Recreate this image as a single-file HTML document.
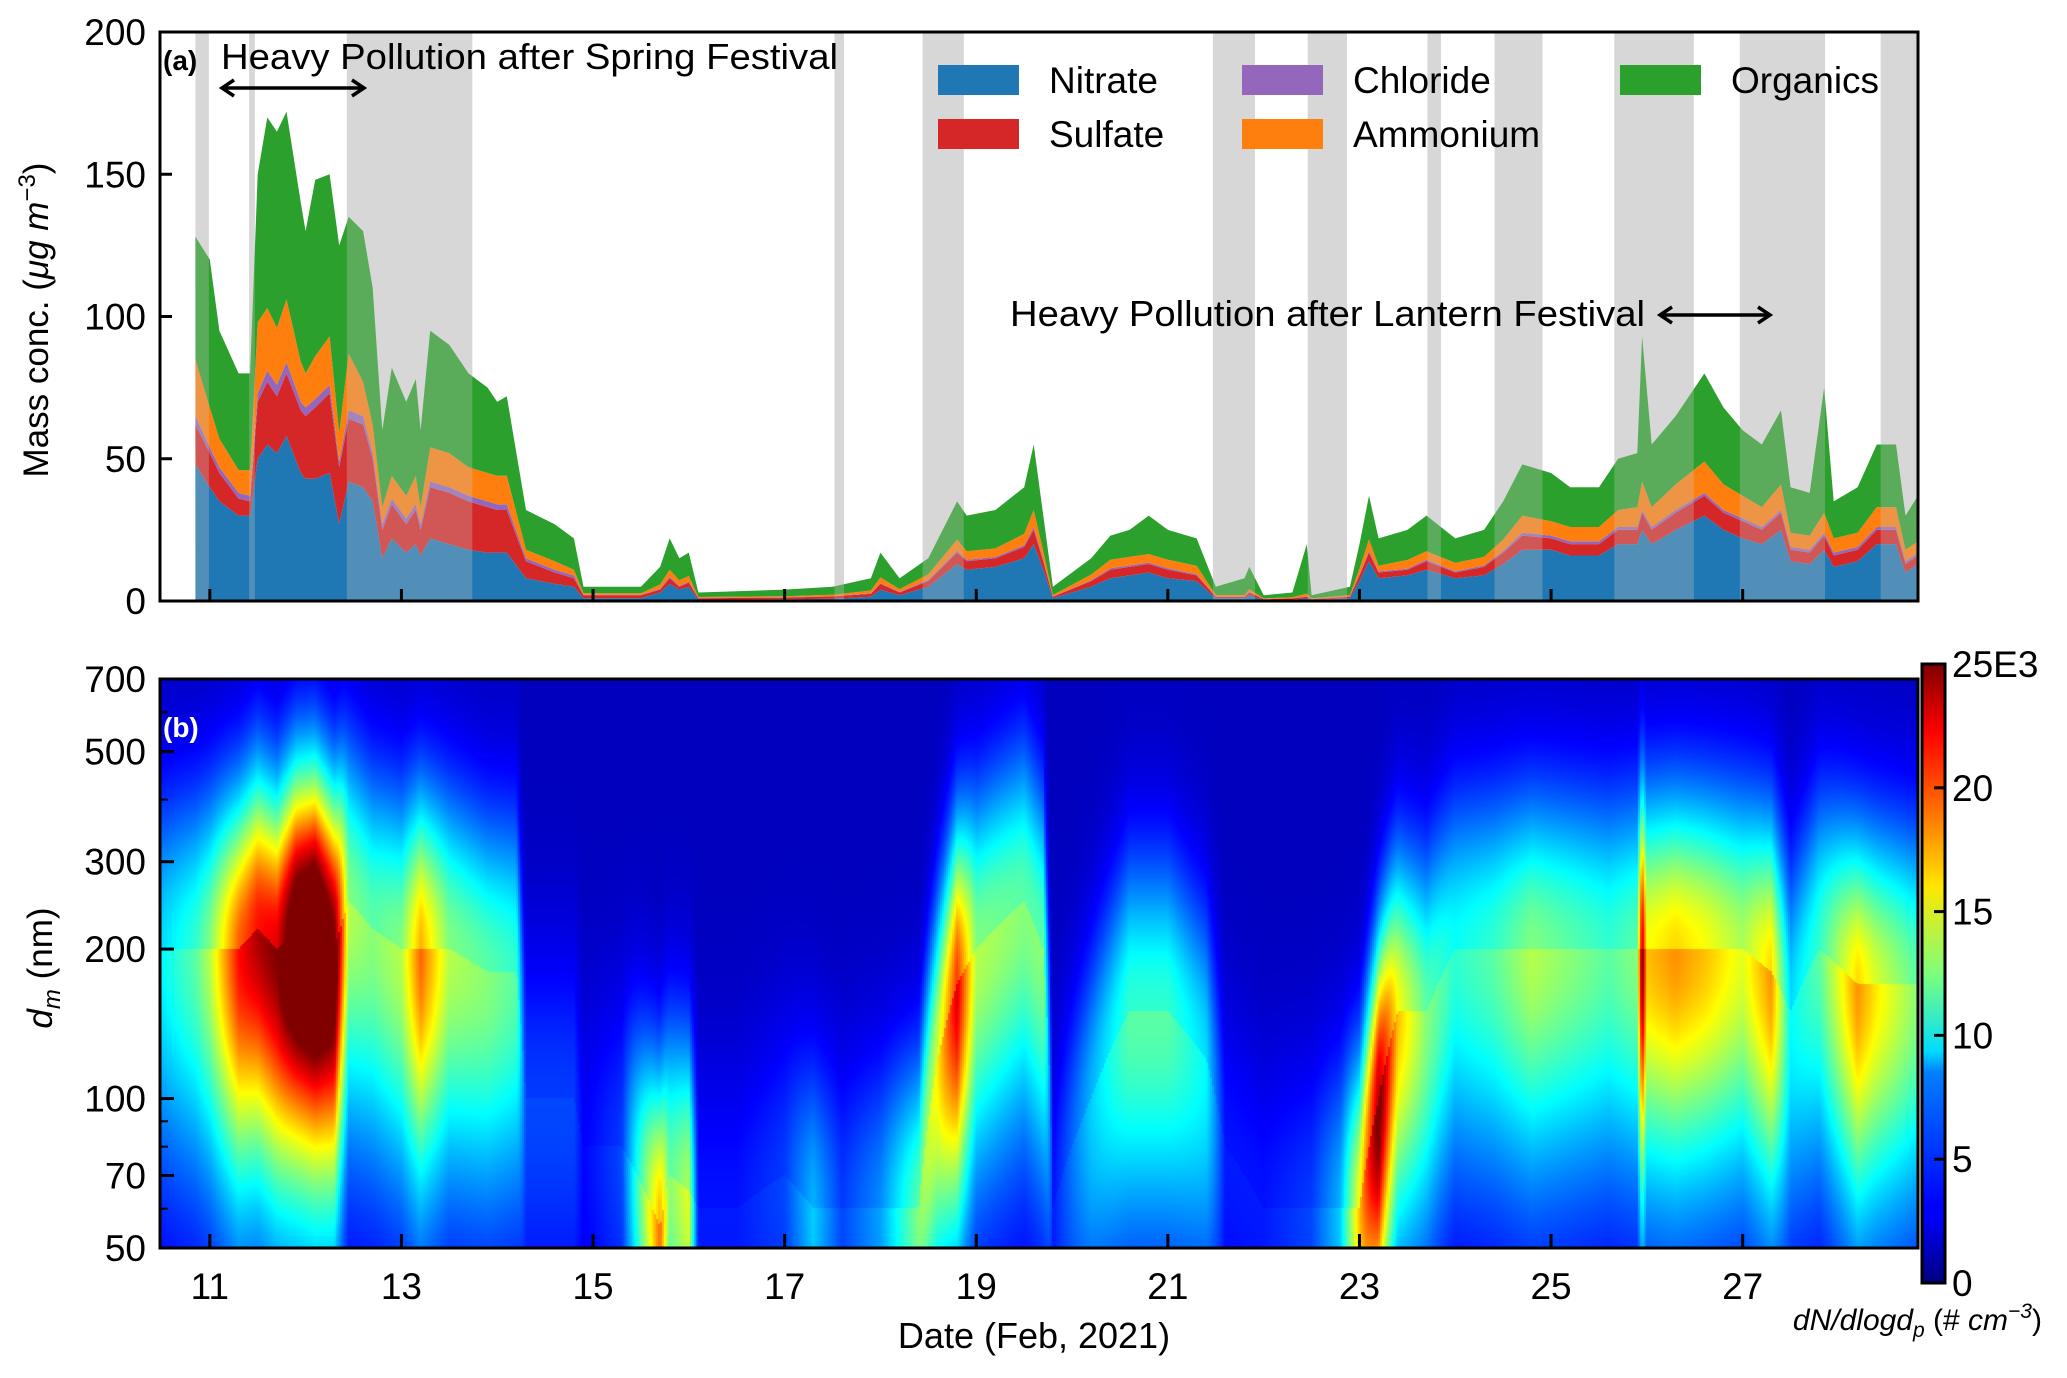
<!DOCTYPE html>
<html><head><meta charset="utf-8"><style>
body{margin:0;background:#fff;}
svg text{font-family:"Liberation Sans",sans-serif;fill:#000;}
</style></head><body>
<svg id="fig" width="2067" height="1373" viewBox="0 0 2067 1373" xmlns="http://www.w3.org/2000/svg">
<defs>
<linearGradient id="jet" x1="0" y1="1" x2="0" y2="0">
<stop offset="0" stop-color="#00007f"/><stop offset="0.11" stop-color="#0000ff"/><stop offset="0.125" stop-color="#0000ff"/><stop offset="0.34" stop-color="#0080ff"/><stop offset="0.375" stop-color="#00ddff"/><stop offset="0.5" stop-color="#7dff7a"/><stop offset="0.64" stop-color="#ffe600"/><stop offset="0.77" stop-color="#ff6a00"/><stop offset="0.89" stop-color="#ff0000"/><stop offset="1" stop-color="#7f0000"/>
</linearGradient>
<clipPath id="clipA"><rect x="160" y="32" width="1758" height="569"/></clipPath>
</defs>
<g id="bandsBack"></g>
<g id="stacks" clip-path="url(#clipA)"></g>
<g id="bandsFront"></g>
<rect x="160" y="32" width="1758" height="569" fill="none" stroke="#000" stroke-width="3"/>
<g id="axA"></g>
<text x="0" y="0" font-size="35" transform="translate(48,320) rotate(-90)" text-anchor="middle">Mass conc. (<tspan font-style="italic">μg m</tspan><tspan font-size="24" dy="-13">−3</tspan><tspan dy="13">)</tspan></text>
<text x="163" y="70" font-size="28" font-weight="bold">(a)</text>
<text x="221" y="69" font-size="36" textLength="617" lengthAdjust="spacingAndGlyphs">Heavy Pollution after Spring Festival</text>
<g stroke="#000" stroke-width="3.5" fill="none"><line x1="222" y1="88" x2="364" y2="88"/><polyline points="234,80 222,88 234,96"/><polyline points="352,80 364,88 352,96"/></g>
<text x="1010" y="326" font-size="36" textLength="635" lengthAdjust="spacingAndGlyphs">Heavy Pollution after Lantern Festival</text>
<g stroke="#000" stroke-width="3.5" fill="none"><line x1="1660" y1="315" x2="1770" y2="315"/><polyline points="1672,307 1660,315 1672,323"/><polyline points="1758,307 1770,315 1758,323"/></g>
<g id="legend"></g>
<foreignObject x="160" y="679" width="1758" height="569"><canvas xmlns="http://www.w3.org/1999/xhtml" id="heat" width="1758" height="569" style="display:block"></canvas></foreignObject>
<rect x="160" y="679" width="1758" height="569" fill="none" stroke="#000" stroke-width="3"/>
<text x="163" y="737" font-size="28" font-weight="bold" style="fill:#fff">(b)</text>
<g id="axB"></g>
<text x="0" y="0" font-size="35" transform="translate(52,968) rotate(-90)" text-anchor="middle"><tspan font-style="italic">d</tspan><tspan font-style="italic" font-size="24" dy="8">m</tspan><tspan dy="-8"> (nm)</tspan></text>
<text x="1034" y="1348" font-size="36" text-anchor="middle">Date (Feb, 2021)</text>
<rect x="1922" y="664" width="23" height="619" fill="url(#jet)" stroke="#000" stroke-width="3"/>
<g id="cbax"></g>
<text x="2042" y="1330" font-size="30" font-style="italic" text-anchor="end">dN/dlogd<tspan font-size="21" dy="7">p</tspan><tspan dy="-7" font-style="normal"> (# </tspan>cm<tspan font-size="21" dy="-12">−3</tspan><tspan dy="12" font-style="normal">)</tspan></text>
</svg>
<script>
// ---- panel a data ----
const times=[10.85,11.0,11.1,11.3,11.42,11.5,11.6,11.7,11.8,11.95,12.0,12.1,12.25,12.35,12.45,12.6,12.7,12.8,12.9,13.05,13.15,13.2,13.3,13.5,13.7,13.9,14.0,14.1,14.3,14.6,14.8,14.9,15.5,15.7,15.8,15.9,16.0,16.1,17.0,17.5,17.9,18.0,18.2,18.5,18.8,18.9,19.2,19.5,19.6,19.7,19.8,20.2,20.4,20.6,20.8,21.0,21.3,21.5,21.8,21.85,22.0,22.3,22.45,22.5,22.9,23.0,23.1,23.2,23.5,23.7,24.0,24.3,24.5,24.7,25.0,25.2,25.5,25.7,25.9,25.95,26.05,26.3,26.6,26.8,27.0,27.2,27.4,27.5,27.7,27.85,27.95,28.2,28.4,28.6,28.7,28.83];
const nitrate=[48,40,35,30,30,50,55,52,58,45,43,43,45,27,42,40,35,15,22,17,20,16,22,20,18,17,17,17,8,6,5,1,1,3,6,4,5,0.5,0.6,0.8,1.5,4,2,5,13,11,12,15,20,11,1,5,8,9,10,8,7,1,1,2,0.3,0.5,1,0.3,1,7,14,8,9,11,8,9,13,18,18,16,16,20,20,25,20,25,30,25,22,20,25,14,13,18,12,14,20,20,10,13];
const sulfate=[14,12,10,6,5,20,22,20,22,22,22,25,28,20,22,22,15,10,12,10,12,9,18,18,17,16,15,15,6,4,3,1,1,1,2,1,1.5,0.5,0.6,0.8,1,2,1,2,4,3,3,4,5,3,0.5,2,3,3,3,3,2,0.5,0.5,1,0.3,0.4,0.5,0.3,0.5,2,3,2,2,3,2,3,4,5,4,4,4,5,5,6,5,6,7,6,6,5,6,4,4,5,4,4,5,5,3,3];
const chloride=[3,2,2,2,2,3,4,4,4,3,3,3,3,2,3,3,2,2,2,2,2,2,2,2,2,2,2,2,1,1,1,0.2,0.2,0.3,0.5,0.3,0.3,0.1,0.1,0.1,0.2,0.3,0.2,0.4,0.6,0.5,0.5,0.6,1,0.5,0.1,0.3,0.5,0.5,0.5,0.5,0.4,0.1,0.1,0.2,0.1,0.1,0.1,0.1,0.1,0.4,0.6,0.4,0.4,0.5,0.4,0.5,0.6,1,1,1,1,1,1,1,1,1,1,1,1,1,1,1,1,1,1,1,1,1,1,1];
const ammonium=[20,14,10,8,9,25,22,20,22,14,12,15,17,10,20,12,10,6,8,8,10,6,12,12,10,10,10,10,3,3,2,0.5,0.5,1.5,2.5,2,2,0.3,0.4,0.5,1,2,1,2,4,3,3,4,6,3,0.5,2,3,3,3,3,3,0.5,0.5,1,0.2,0.3,1,0.2,0.5,2,4,2,3,3,3,3,4,6,5,5,5,6,7,10,7,9,11,9,8,7,9,5,5,7,5,5,7,7,4,4];
const organics=[43,52,38,34,34,52,67,69,66,56,50,62,57,66,48,53,48,27,38,33,34,27,41,38,33,30,26,28,14,13,11,2.3,2.3,6.2,11,7.7,8.2,1.6,2.3,2.8,4.3,8.7,3.8,5.6,13.4,12.5,13.5,16.4,23,12.5,2.9,5.7,8.5,9.5,13.5,10.5,9.6,2.9,5.9,7.8,1.1,1.7,17.4,1.1,2.9,8.6,15.4,9.6,10.6,12.5,8.6,9.5,13.4,18,17,14,14,18,19,51,22,24,31,27,23,22,26,16,15,44,13,16,22,22,12,16];
const bandStart=[10.85,11.41,12.43,17.52,18.44,21.47,22.46,23.71,24.41,25.66,26.97,28.44];
const bandEnd=[10.99,11.47,13.74,17.62,18.87,21.91,22.87,23.85,24.91,26.49,27.86,28.83];
const yTicksA=[0,50,100,150,200];
const dayTicks=[11,13,15,17,19,21,23,25,27];
// ---- panel b data ----
const hTimes=[10.5,10.85,11.0,11.3,11.5,11.7,11.9,12.1,12.3,12.45,12.7,13.0,13.2,13.5,13.9,14.2,14.3,14.8,14.9,15.3,15.7,15.8,16.0,16.1,16.5,17.0,17.3,17.6,18.0,18.4,18.6,18.8,19.0,19.5,19.7,19.8,20.2,20.6,21.0,21.4,21.6,22.0,22.5,22.8,23.0,23.2,23.4,23.7,24.0,24.4,24.8,25.2,25.6,25.9,25.95,26.0,26.3,26.6,27.0,27.3,27.5,27.8,28.2,28.4,28.83];
const hMode=[200,200,200,200,220,200,220,220,200,250,220,200,200,200,180,180,100,100,80,80,55,70,65,60,60,70,60,60,60,60,120,170,200,250,200,60,100,150,150,120,80,60,60,60,60,100,150,150,200,200,200,200,200,200,200,200,200,200,200,180,150,200,170,170,170];
const hPeak=[7,9,11,18,20,21,26,28,24,11,10,11,16,11,10,9,3,3,1.5,3,16,10,12,2,2,3,6,3,5,10,13,19,11,10,10,2,6,9,9,7,2,2,3,6,14,22,14,10,8,9,11,10,9,10,22,14,15,14,12,15,7,9,15,13,10];
const yTicksB=[50,70,100,200,300,500,700];
const yMinorB=[60,80,90,400,600];
const cbLabels=["0","5","10","15","20","25E3"];
const cbTickVals=[0,5,10,15,20,25];

const NS="http://www.w3.org/2000/svg";
const X0=160,X1=1918,D0=10.48,D1=28.83;
const xs=d=>X0+(d-D0)/(D1-D0)*(X1-X0);
const ya=v=>601-v/200*569;
const yb=d=>1248-Math.log(d/50)/Math.log(14)*569;
const ycb=v=>1283-v/25*619;
function mk(tag,attrs,parent){const e=document.createElementNS(NS,tag);for(const k in attrs)e.setAttribute(k,attrs[k]);parent.appendChild(e);return e;}

const bb=document.getElementById('bandsBack'),bf=document.getElementById('bandsFront');
bandStart.forEach((s,i)=>{
 const r=mk('rect',{x:xs(s),y:32,width:xs(bandEnd[i])-xs(s),height:569,fill:'#dedede'},bb);
 
 
 const r2=mk('rect',{x:xs(s),y:32,width:xs(bandEnd[i])-xs(s),height:569,fill:'rgba(200,200,200,0.3)'},bf);
 
 
});
const series=[["nitrate",nitrate,"#1f77b4"],["sulfate",sulfate,"#d62728"],["chloride",chloride,"#9467bd"],["ammonium",ammonium,"#ff7f0e"],["organics",organics,"#2ca02c"]];
const st=document.getElementById('stacks');
let base=times.map(()=>0);
series.forEach(([nm,arr,col])=>{
 const top=base.map((b,i)=>b+arr[i]);
 let p="M"+xs(times[0])+","+ya(base[0]);
 times.forEach((t,i)=>{p+=" L"+xs(t).toFixed(1)+","+ya(top[i]).toFixed(1);});
 for(let i=times.length-1;i>=0;i--)p+=" L"+xs(times[i]).toFixed(1)+","+ya(base[i]).toFixed(1);
 const e=mk('path',{d:p+"Z",fill:col},st);
 
 
 base=top;
});
const axA=document.getElementById('axA');
yTicksA.forEach(v=>{
 mk('line',{x1:160,x2:172,y1:ya(v),y2:ya(v),stroke:'#000','stroke-width':3},axA);
 const t=mk('text',{x:146,y:ya(v)+13,'font-size':37,'text-anchor':'end'},axA);t.textContent=v;
 
 
});
dayTicks.forEach(d=>mk('line',{x1:xs(d),x2:xs(d),y1:601,y2:589,stroke:'#000','stroke-width':3},axA));
const lg=document.getElementById('legend');
const legItems=[["Nitrate","#1f77b4",938,80],["Sulfate","#d62728",938,134],["Chloride","#9467bd",1242,80],["Ammonium","#ff7f0e",1242,134],["Organics","#2ca02c",1620,80]];
legItems.forEach(([n,c,x,y])=>{
 const g=mk('g',{},lg);
 
 
 mk('rect',{x:x,y:y-15,width:81,height:30,fill:c},g);
 const t=mk('text',{x:x+111,y:y+13,'font-size':37},g);t.textContent=n;
});
const cv=document.getElementById('heat'),ctx=cv.getContext('2d');
function jet(v){v=Math.max(0,Math.min(1,v));const r=Math.min(4*v-1.5,-4*v+4.5),g=Math.min(4*v-0.5,-4*v+3.5),b=Math.min(4*v+0.5,-4*v+2.5);const c=x=>Math.round(255*Math.max(0,Math.min(1,x)));return [c(r),c(g),c(b)];}
function interp(arr,t){if(t<=hTimes[0])return arr[0];for(let i=1;i<hTimes.length;i++){if(t<=hTimes[i]){const f=(t-hTimes[i-1])/(hTimes[i]-hTimes[i-1]);return arr[i-1]+(arr[i]-arr[i-1])*f;}}return arr[arr.length-1];}
const img=ctx.createImageData(1758,569);
const colStep=2;
for(let px=0;px<1758;px+=colStep){
 const t=D0+(px+1)/1758*(D1-D0);
 const md=interp(hMode,t),pk=interp(hPeak,t);
 const lm=Math.log10(md);
 for(let py=0;py<569;py++){
  const d=50*Math.pow(14,(568-py)/568);
  const ld=Math.log10(d)-lm;
  const w=ld>0?0.22:0.32;
  let v=pk*Math.exp(-0.5*(ld/w)*(ld/w))+1.5+(ld<0?pk*0.12:0);
  const [r,g,b]=jet(v/25);
  for(let k=0;k<colStep&&px+k<1758;k++){const o=(py*1758+px+k)*4;img.data[o]=r;img.data[o+1]=g;img.data[o+2]=b;img.data[o+3]=255;}
 }
}
ctx.putImageData(img,0,0);
const axB=document.getElementById('axB');
yTicksB.forEach(v=>{
 mk('line',{x1:160,x2:174,y1:yb(v),y2:yb(v),stroke:'#000','stroke-width':3},axB);
 const t=mk('text',{x:146,y:yb(v)+13,'font-size':37,'text-anchor':'end'},axB);t.textContent=v;
 
 
});
yMinorB.forEach(v=>mk('line',{x1:160,x2:168,y1:yb(v),y2:yb(v),stroke:'#000','stroke-width':2},axB));
dayTicks.forEach(d=>{
 mk('line',{x1:xs(d),x2:xs(d),y1:1248,y2:1234,stroke:'#000','stroke-width':3},axB);
 const t=mk('text',{x:xs(d),y:1299,'font-size':37,'text-anchor':'middle'},axB);t.textContent=d;
 
 
});
const cb=document.getElementById('cbax');
cbTickVals.forEach((v,i)=>{
 if(i<cbTickVals.length-1)mk('line',{x1:1934,x2:1945,y1:ycb(v),y2:ycb(v),stroke:'#000','stroke-width':3},cb);
 const t=mk('text',{x:1952,y:ycb(v)+13,'font-size':37},cb);t.textContent=cbLabels[i];
 
 
});
</script>
</body></html>
